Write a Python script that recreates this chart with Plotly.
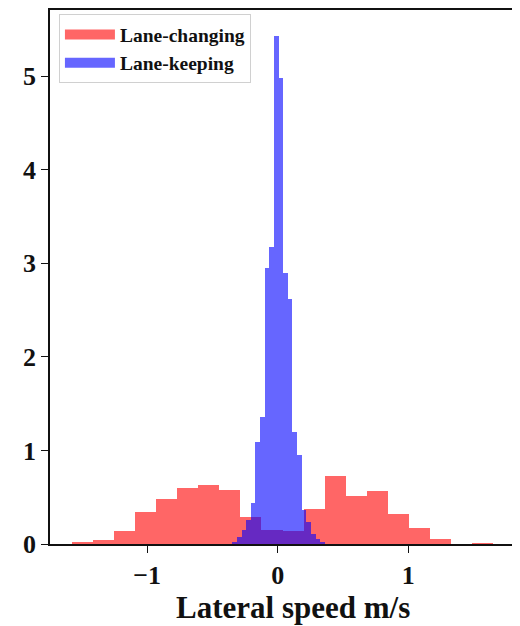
import plotly.graph_objects as go

# Lane-changing histogram (density): first bin edge, bin width, bin heights
red_first_edge = -1.578
red_bin_width = 0.1615
red_heights = [0.018, 0.046, 0.14, 0.34, 0.48, 0.60, 0.63, 0.58,
               0.29, 0.15, 0.135, 0.37, 0.73, 0.51, 0.565, 0.32,
               0.17, 0.053, 0.0, 0.016, 0.005]

# Lane-keeping histogram (density)
blue_first_edge = -0.348
blue_bin_width = 0.03548
blue_heights = [0.025, 0.072, 0.15, 0.255, 0.44, 1.09, 1.354, 2.95,
                3.18, 5.43, 4.98, 2.90, 2.62, 1.195, 0.95, 0.36,
                0.23, 0.106, 0.053, 0.025]

x_ticks = [-1, 0, 1]
y_ticks = [0, 1, 2, 3, 4, 5]
series_names = ["Lane-changing", "Lane-keeping"]
x_title = "Lateral speed m/s"

red_centers = [red_first_edge + (i + 0.5) * red_bin_width for i in range(len(red_heights))]
blue_centers = [blue_first_edge + (i + 0.5) * blue_bin_width for i in range(len(blue_heights))]

FONT = "Liberation Serif, Times New Roman, serif"
RED = "rgba(255,0,0,0.6)"
BLUE = "rgba(0,0,255,0.6)"

fig = go.Figure()
fig.add_trace(go.Bar(
    x=red_centers, y=red_heights, width=red_bin_width,
    name=series_names[0], legendgroup="lc", showlegend=False,
    marker=dict(color=RED, line=dict(width=0)),
))
fig.add_trace(go.Bar(
    x=blue_centers, y=blue_heights, width=blue_bin_width,
    name=series_names[1], legendgroup="lk", showlegend=False,
    marker=dict(color=BLUE, line=dict(width=0)),
))
# legend entries drawn as wide patches (like matplotlib's legend handles)
for name, col, grp in [(series_names[0], RED, "lc"), (series_names[1], BLUE, "lk")]:
    fig.add_trace(go.Scatter(
        x=[None], y=[None], mode="lines", name=name, legendgroup=grp,
        line=dict(color=col, width=13), hoverinfo="skip",
    ))

axis_common = dict(
    showline=True, linecolor="#111", linewidth=1.6,
    ticks="outside", ticklen=7, tickwidth=1.4, tickcolor="#111",
    showgrid=False, zeroline=False,
    tickfont=dict(family=FONT, size=26, color="#111", weight="bold"),
)

# The page body has an 8px margin, so the figure is 8px smaller in each direction
fig.update_layout(
    width=512, height=618,
    margin=dict(l=42, r=0, t=0, b=82),
    paper_bgcolor="white", plot_bgcolor="white",
    barmode="overlay", bargap=0,
    showlegend=True,
    legend=dict(
        x=0.019, y=0.992, xanchor="left", yanchor="top",
        bgcolor="rgba(255,255,255,0.8)", bordercolor="#d0d0d0", borderwidth=1,
        font=dict(family=FONT, size=19.5, color="#111", weight="bold"),
        itemwidth=50, tracegroupgap=0,
    ),
    xaxis=dict(range=[-1.745, 1.857], tickvals=x_ticks, mirror=True, **axis_common),
    yaxis=dict(range=[0, 5.708], tickvals=y_ticks, **axis_common),
    annotations=[dict(
        text=x_title, xref="paper", yref="paper", x=0.516, y=0,
        xanchor="center", yanchor="top", yshift=-44, showarrow=False,
        font=dict(family=FONT, size=31, color="#111", weight="bold"),
    )],
)

fig.write_html("out.html")
